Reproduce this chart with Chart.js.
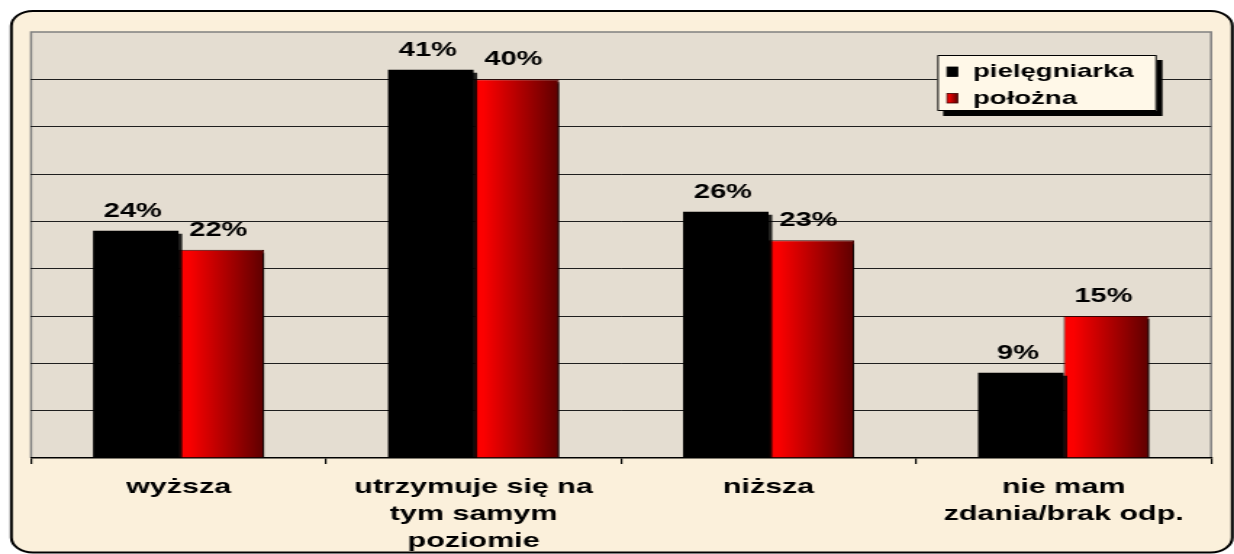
<!DOCTYPE html>
<html>
<head>
<meta charset="utf-8">
<script src="https://cdn.jsdelivr.net/npm/chart.js@4/dist/chart.umd.min.js"></script>
<style>
  html, body { margin: 0; padding: 0; background: #ffffff; overflow: hidden; }
  #c { display: block; width: 1234px; height: 554px; }
</style>
</head>
<body>
<canvas id="c" width="851" height="554" style="width:1234px;height:554px"></canvas>
<script>
// ---- data ----
const categories = [
  ['wyższa'],
  ['utrzymuje się na', 'tym samym', 'poziomie'],
  ['niższa'],
  ['nie mam', 'zdania/brak odp.']
];
const seriesNames = ['pielęgniarka', 'położna'];
const nurseValues = [24, 41, 26, 9];
const midwifeValues = [22, 40, 23, 15];
const nurseLabels = ['24%', '41%', '26%', '9%'];
const midwifeLabels = ['22%', '40%', '23%', '15%'];
const yTickValues = [0, 5, 10, 15, 20, 25, 30, 35, 40, 45];

// ---- styling ----
const FONT = "'Liberation Sans', Arial, sans-serif";
const CAT_PCT = 0.58;
const PLOT_BG = '#E4DDD1';
const FRAME_BG = '#FBF0DB';

function redGradient(ctx, left, right) {
  const g = ctx.createLinearGradient(left, 0, right, 0);
  g.addColorStop(0, '#ff0000');
  g.addColorStop(0.12, '#fb0000');
  g.addColorStop(1, '#5e0000');
  return g;
}

const midwifeFill = (c) => {
  const chart = c.chart;
  const xs = chart.scales && chart.scales.x;
  if (!xs || c.dataIndex === undefined || !chart.chartArea) return '#c00000';
  const center = xs.getPixelForValue(c.dataIndex);
  const catW = xs.width / categories.length;
  const barW = catW * CAT_PCT / 2;
  return redGradient(chart.ctx, center, center + barW);
};

const backgroundPlugin = {
  id: 'bgFrame',
  beforeDraw(chart) {
    const { ctx, width, height, chartArea: a } = chart;
    ctx.save();
    ctx.fillStyle = '#ffffff';
    ctx.fillRect(0, 0, width, height);
    // rounded frame
    ctx.beginPath();
    ctx.roundRect(7.8, 11, 842, 541.5, 15);
    ctx.fillStyle = FRAME_BG;
    ctx.fill();
    ctx.lineWidth = 2;
    ctx.strokeStyle = '#000000';
    ctx.stroke();
    // plot area
    ctx.fillStyle = PLOT_BG;
    ctx.fillRect(a.left, a.top, a.right - a.left, a.bottom - a.top);
    ctx.strokeStyle = '#808080';
    ctx.lineWidth = 1.5;
    ctx.beginPath();
    ctx.moveTo(a.left, a.bottom);
    ctx.lineTo(a.left, a.top);
    ctx.lineTo(a.right, a.top);
    ctx.lineTo(a.right, a.bottom);
    ctx.stroke();
    ctx.restore();
  }
};

const shadowPlugin = {
  id: 'barShadow',
  beforeDatasetsDraw(chart) {
    const ctx = chart.ctx;
    ctx.save();
    ctx.shadowColor = 'rgba(0,0,0,0.85)';
    ctx.shadowOffsetX = 2.5;
    ctx.shadowOffsetY = 3;
    ctx.shadowBlur = 0;
  },
  afterDatasetsDraw(chart) {
    chart.ctx.restore();
  }
};

const valueLabelPlugin = {
  id: 'valueLabels',
  afterDatasetsDraw(chart) {
    const ctx = chart.ctx;
    const labelSets = [nurseLabels, midwifeLabels];
    ctx.save();
    ctx.font = `bold 20px ${FONT}`;
    ctx.fillStyle = '#000000';
    ctx.textAlign = 'center';
    ctx.textBaseline = 'alphabetic';
    chart.data.datasets.forEach((ds, di) => {
      const meta = chart.getDatasetMeta(di);
      meta.data.forEach((bar, i) => {
        ctx.fillText(labelSets[di][i], bar.x - 2, bar.y - 14);
      });
    });
    ctx.restore();
  }
};

const legendPlugin = {
  id: 'boxLegend',
  afterDraw(chart) {
    const ctx = chart.ctx;
    const x = 646.4, y = 55, w = 151.3, h = 56;
    ctx.save();
    ctx.fillStyle = '#000000';
    ctx.fillRect(x + 4, y + 5, w, h);
    ctx.fillStyle = '#FFF8E8';
    ctx.fillRect(x, y, w, h);
    ctx.strokeStyle = '#000000';
    ctx.lineWidth = 1;
    ctx.strokeRect(x + 0.5, y + 0.5, w - 1, h - 1);
    ctx.font = `bold 19px ${FONT}`;
    ctx.textBaseline = 'alphabetic';
    ctx.textAlign = 'left';
    const rows = [
      { text: seriesNames[0], my: 67, base: 77, fill: '#000000', border: '#000000' },
      { text: seriesNames[1], my: 93.5, base: 103.5, fill: null, border: '#400000' }
    ];
    rows.forEach(r => {
      const mx = 653.1, mw = 7.3, mh = 9.5;
      ctx.fillStyle = r.fill || redGradient(ctx, mx, mx + mw);
      ctx.fillRect(mx, r.my, mw, mh);
      ctx.strokeStyle = r.border;
      ctx.lineWidth = 0.8;
      ctx.strokeRect(mx, r.my, mw, mh);
      ctx.fillStyle = '#000000';
      ctx.fillText(r.text, 671, r.base);
    });
    ctx.restore();
  }
};

new Chart(document.getElementById('c'), {
  type: 'bar',
  data: {
    labels: categories,
    datasets: [
      {
        label: seriesNames[0],
        data: nurseValues,
        backgroundColor: '#000000',
        borderWidth: 0
      },
      {
        label: seriesNames[1],
        data: midwifeValues,
        backgroundColor: midwifeFill,
        borderColor: '#3a0000',
        borderWidth: 1
      }
    ]
  },
  options: {
    responsive: false,
    animation: false,
    devicePixelRatio: 1,
    layout: { padding: { left: 21.4, right: 15.8, top: 32, bottom: 0 } },
    datasets: { bar: { categoryPercentage: CAT_PCT, barPercentage: 1.0 } },
    plugins: {
      legend: { display: false },
      title: { display: false },
      tooltip: { enabled: false }
    },
    scales: {
      x: {
        type: 'category',
        offset: true,
        afterFit(scale) { scale.height = 96; },
        grid: {
          display: true,
          offset: true,
          drawOnChartArea: false,
          drawTicks: true,
          tickLength: 6,
          color: '#000000',
          lineWidth: 1.2
        },
        border: { display: true, color: '#000000', width: 1.5 },
        ticks: {
          color: '#000000',
          font: { family: FONT, size: 21, weight: 'bold', lineHeight: 1.286 },
          padding: 10,
          maxRotation: 0,
          minRotation: 0,
          autoSkip: false
        }
      },
      y: {
        min: 0,
        max: 45,
        afterFit(scale) { scale.width = 0; },
        afterBuildTicks(scale) { scale.ticks = yTickValues.map(v => ({ value: v })); },
        grid: {
          drawTicks: false,
          color: (c) => (c.tick && (c.tick.value === 45 || c.tick.value === 0)) ? 'rgba(0,0,0,0)' : '#1e1e1e',
          lineWidth: 1
        },
        border: { display: false },
        ticks: { display: false }
      }
    }
  },
  plugins: [backgroundPlugin, shadowPlugin, valueLabelPlugin, legendPlugin]
});
</script>
</body>
</html>
